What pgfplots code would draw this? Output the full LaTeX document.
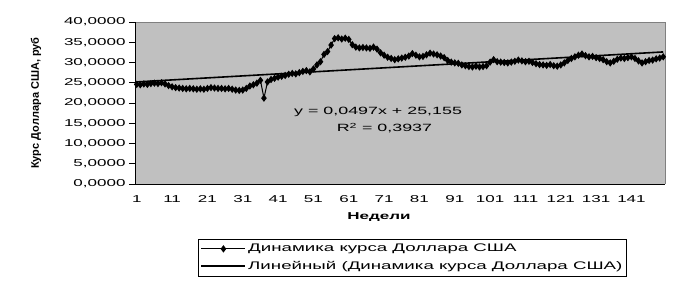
\documentclass[border=0pt]{standalone}
\usepackage{fontspec}
\setmainfont[FakeStretch=1.7]{Liberation Sans}
\newfontfamily\ylabfont{Liberation Sans}
\usepackage{pgfplots}
\pgfplotsset{compat=1.18}
\definecolor{plotgray}{HTML}{C0C0C0}
\definecolor{framegray}{HTML}{808080}
\pgfplotstableread{
w v
1 24.6
2 24.5
3 24.7
4 24.6
5 24.8
6 24.9
7 24.8
8 25.0
9 24.7
10 24.3
11 24.0
12 23.8
13 23.7
14 23.6
15 23.5
16 23.6
17 23.5
18 23.4
19 23.5
20 23.4
21 23.6
22 23.8
23 23.7
24 23.6
25 23.6
26 23.5
27 23.6
28 23.4
29 23.2
30 23.1
31 23.2
32 23.6
33 24.2
34 24.5
35 24.9
36 25.6
37 21.2
38 25.2
39 25.8
40 26.1
41 26.4
42 26.6
43 26.8
44 27.1
45 27.3
46 27.2
47 27.5
48 27.8
49 28.0
50 27.7
51 28.4
52 29.4
53 30.2
54 32.0
55 32.7
56 34.3
57 35.9
58 36.1
59 35.8
60 36.0
61 35.7
62 34.4
63 33.8
64 33.6
65 33.7
66 33.6
67 33.5
68 33.8
69 33.3
70 32.4
71 31.8
72 31.3
73 31.0
74 30.7
75 30.9
76 31.1
77 31.3
78 31.6
79 32.2
80 31.8
81 31.4
82 31.5
83 31.9
84 32.3
85 32.1
86 31.9
87 31.6
88 31.2
89 30.5
90 30.1
91 29.9
92 29.8
93 29.4
94 29.2
95 29.0
96 28.9
97 29.1
98 28.9
99 29.0
100 29.2
101 30.1
102 30.7
103 30.2
104 30.1
105 30.0
106 29.9
107 30.1
108 30.3
109 30.6
110 30.4
111 30.2
112 30.3
113 30.0
114 29.7
115 29.5
116 29.4
117 29.3
118 29.5
119 29.2
120 29.1
121 29.4
122 29.9
123 30.5
124 31.0
125 31.4
126 31.8
127 32.1
128 31.7
129 31.4
130 31.5
131 31.2
132 31.0
133 30.7
134 30.2
135 29.9
136 30.3
137 30.8
138 31.1
139 31.0
140 31.2
141 31.4
142 31.0
143 30.4
144 29.9
145 30.2
146 30.5
147 30.6
148 30.9
149 31.1
150 31.4
}\usd
\begin{document}
\fontsize{10bp}{12bp}\selectfont
\begin{tikzpicture}
\path[use as bounding box] (-135bp,-103bp) rectangle (552bp,184bp);
\begin{axis}[
  at={(0,0)}, anchor=south west,
  scale only axis, width=530bp, height=162bp,
  xmin=0.5, xmax=150.5, ymin=0, ymax=40,
  clip=false,
  axis background/.style={fill=plotgray},
  axis line style={draw=none},
  tick align=outside,
  xtick={1,11,...,141},
  xtick style={draw=none},
  minor xtick={0.5,1.5,...,150.5},
  minor tick length=4bp,
  major tick length=6bp,
  xtick pos=bottom, ytick pos=left,
  ytick={0,5,...,40},
  tick style={black, line width=0.8bp},
  /pgf/number format/assume math mode=true,
  yticklabel style={/pgf/number format/.cd, fixed, fixed zerofill, precision=4, use comma},
  xticklabel style={yshift=-2bp},
  every axis y label/.style={at={(axis description cs:-0.1868,0.5)}, rotate=90, anchor=center},
  every axis x label/.style={at={(axis description cs:0.4604,-0.2037)}, anchor=center},
  ylabel={\fontsize{11bp}{13bp}\ylabfont\bfseries Курс Доллара США, руб},
  xlabel={\bfseries Недели},
  legend style={at={(axis description cs:0.5236,-0.34)}, anchor=north, draw=black, fill=white, row sep=4bp, inner xsep=2bp, inner ysep=3bp, font=\fontsize{11bp}{13bp}\selectfont},
  legend cell align=left,
  legend image code/.code={\draw[mark repeat=2,mark phase=2,#1] plot coordinates {(0bp,0bp) (22bp,0bp) (44bp,0bp)};},
]
\addplot[black, line width=1bp, mark=diamond*, mark size=2.9bp, mark options={solid, fill=black}] table[x=w, y=v] {\usd};
\addlegendentry{Динамика курса Доллара США}
\addplot[black, line width=1.6bp, no marks] coordinates {(1,25.2047) (150,32.61)};
\addlegendentry{Линейный (Динамика курса Доллара США)}
\draw[framegray, line width=0.8bp] (rel axis cs:0,1) -- (rel axis cs:1,1) -- (rel axis cs:1,0);
\draw[black, line width=0.8bp] (rel axis cs:0,1) -- (rel axis cs:0,0) -- (rel axis cs:1,0);
\node[anchor=center, font=\fontsize{10.5bp}{12bp}\selectfont] at (axis cs:69.3,17.8) {y = 0,0497x + 25,155};
\node[anchor=center, font=\fontsize{10.5bp}{12bp}\selectfont] at (axis cs:71.1,13.8) {R\textsuperscript{2} = 0,3937};
\end{axis}
\end{tikzpicture}
\end{document}
